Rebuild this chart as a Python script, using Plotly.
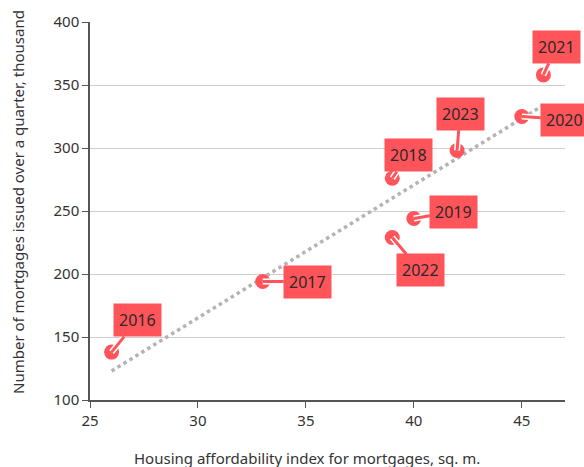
import plotly.graph_objects as go

years = ["2016", "2017", "2018", "2019", "2020", "2021", "2022", "2023"]
afford_index = [26, 33, 39, 40, 45, 46, 39, 42]
mortgages = [138, 194, 276, 244, 325, 358, 229, 298]
trend_x = [26, 46]
trend_y = [123, 334]

# label offsets (pixels) of callout boxes relative to points
label_dx = [26, 45, 16, 40, 43, 13, 28, 3]
label_dy = [-32, 0, -23, -7, 3, -28, 33, -37]

RED = "#FF545A"
FONT = "Noto Sans"

fig = go.Figure()
fig.add_trace(go.Scatter(
    x=trend_x, y=trend_y, mode="lines",
    line=dict(color="#b3b3b3", width=3.5, dash="dot"),
    hoverinfo="skip", showlegend=False))
fig.add_trace(go.Scatter(
    x=afford_index, y=mortgages, mode="markers",
    marker=dict(color=RED, size=15, line=dict(width=0)),
    showlegend=False))

annotations = []
for yr, xv, yv, dx, dy in zip(years, afford_index, mortgages, label_dx, label_dy):
    annotations.append(dict(
        x=xv, y=yv, xref="x", yref="y", ax=dx, ay=dy, text=yr,
        showarrow=True, arrowhead=0, arrowwidth=6, arrowcolor="white",
        font=dict(family=FONT, size=16, color="rgba(0,0,0,0)"),
        bgcolor="rgba(0,0,0,0)", borderpad=5))
    annotations.append(dict(
        x=xv, y=yv, xref="x", yref="y", ax=dx, ay=dy, text=yr,
        showarrow=True, arrowhead=0, arrowwidth=3, arrowcolor=RED,
        font=dict(family=FONT, size=16, color="#2a2a2a"),
        bgcolor=RED, borderpad=5))

W, H = 584, 467
ML, MR, MT, MB = 90, 19, 22, 67
annotations.append(dict(
    text="Housing affordability index for mortgages, sq. m.",
    xref="paper", yref="paper", x=(307 - ML) / (W - ML - MR),
    y=-(458 - (H - MB)) / (H - MT - MB), xanchor="center", yanchor="middle",
    showarrow=False, font=dict(family=FONT, size=15, color="#333333")))
annotations.append(dict(
    text="Number of mortgages issued over a quarter, thousand",
    xref="paper", yref="paper", x=-(ML - 18) / (W - ML - MR),
    y=(H - MB - 202) / (H - MT - MB), xanchor="center", yanchor="middle",
    textangle=-90, showarrow=False,
    font=dict(family=FONT, size=15, color="#333333")))

fig.update_layout(
    width=W, height=H,
    margin=dict(l=ML, r=MR, t=MT, b=MB, autoexpand=False),
    plot_bgcolor="white", paper_bgcolor="white",
    font=dict(family=FONT, size=15, color="#333333"),
    annotations=annotations,
    xaxis=dict(
        range=[25, 47], tickvals=[25, 30, 35, 40, 45],
        showgrid=False, zeroline=False, automargin=False,
        showline=True, linecolor="#555555", linewidth=1.5,
        ticks="outside", ticklen=6, tickcolor="#555555",
        tickfont=dict(size=15)),
    yaxis=dict(
        range=[100, 400], tickvals=[100, 150, 200, 250, 300, 350, 400],
        showgrid=True, gridcolor="#cfcfcf", gridwidth=1, zeroline=False,
        automargin=False,
        showline=True, linecolor="#555555", linewidth=1.5,
        ticks="outside", ticklen=6, tickcolor="#555555",
        tickfont=dict(size=15)),
)

fig.write_html("out.html", config={"displayModeBar": False},
               post_script="document.body.style.margin='0';")
